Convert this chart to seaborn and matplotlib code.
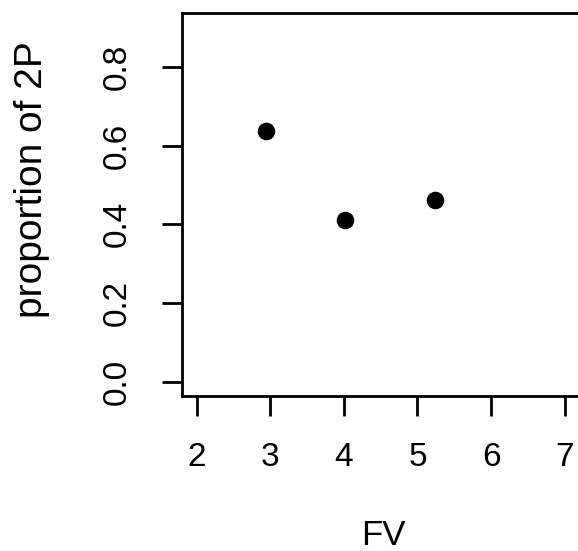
import matplotlib
matplotlib.use("Agg")
import matplotlib.pyplot as plt
import seaborn as sns
import pandas as pd

fv = [2.94, 4.02, 5.24]
prop_2p = [0.636, 0.41, 0.461]
x_ticks = [2, 3, 4, 5, 6, 7]
y_ticks = [0.0, 0.2, 0.4, 0.6, 0.8]
y_tick_labels = ["0.0", "0.2", "0.4", "0.6", "0.8"]

sns.set_style("white")
plt.rcParams['font.family'] = ['Liberation Sans', 'DejaVu Sans']

df = pd.DataFrame({"FV": fv, "proportion of 2P": prop_2p})

fig = plt.figure(figsize=(5.78, 5.51), dpi=100)
ax = fig.add_axes([0.3149, 0.2818, 0.6875, 0.6937])
sns.scatterplot(data=df, x="FV", y="proportion of 2P", ax=ax, color="black",
                s=160, edgecolor="black", linewidth=0, legend=False)
ax.set_xlim(1.8, 7.2)
ax.set_ylim(-0.036, 0.936)
ax.set_xticks(x_ticks)
ax.set_xticklabels([str(t) for t in x_ticks])
ax.set_yticks(y_ticks)
ax.set_yticklabels(y_tick_labels, rotation=90, va="center")
for s in ax.spines.values():
    s.set_visible(True)
    s.set_color("black")
    s.set_linewidth(2.0)
ax.tick_params(axis="both", direction="out", length=14.5, width=2.0,
               color="black", labelsize=24, labelcolor="black",
               bottom=True, left=True)
ax.tick_params(axis="x", pad=19)
ax.tick_params(axis="y", pad=21)
ax.set_xlabel("FV", fontsize=25, va="center", ha="center", color="black")
ax.set_ylabel("proportion of 2P", fontsize=28, va="center", ha="center", color="black")
ax.xaxis.set_label_coords(0.506, -0.3645)
ax.yaxis.set_label_coords(-0.3775, 0.565)
fig.savefig("out.png", dpi=100)
